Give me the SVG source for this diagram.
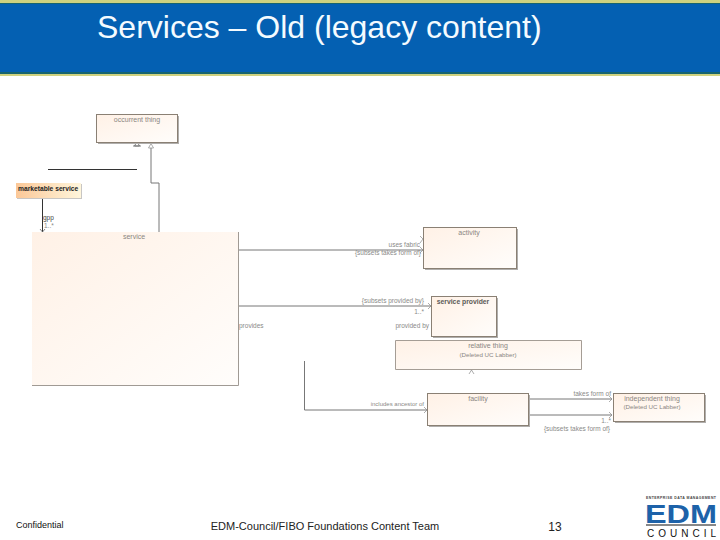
<svg xmlns="http://www.w3.org/2000/svg" width="720" height="540" viewBox="0 0 720 540">
<style>
text{font-family:"Liberation Sans",Arial,sans-serif}
.t{font-size:6.500px;fill:#8a8a88}
.n{font-size:7px;fill:#8a8682}
.s{font-size:6.200px;fill:#8a8682}
.b{font-size:6.800px;fill:#5c5a58;font-weight:bold}
.box{stroke:#8a8074;stroke-width:1;fill:url(#g)}
.sh{fill:#b0aeac}
.c{fill:none;stroke:#777;stroke-width:1}
.a{fill:none;stroke:#8a8a8a;stroke-width:.7}
</style>
<defs>
<linearGradient id="g" x1="0" y1="0" x2="1" y2="1"><stop offset="0" stop-color="#fff1e6"/><stop offset="1" stop-color="#fffdfb"/></linearGradient>
<linearGradient id="m" x1="0" y1="0" x2="1" y2="0"><stop offset="0" stop-color="#fbc898"/><stop offset="1" stop-color="#fff6dc"/></linearGradient>
</defs>
<rect width="720" height="540" fill="#fff"/>
<g id="header">
<rect width="720" height="76" fill="#cfd27f"/>
<rect y="3" width="720" height="71" fill="#17646f"/>
<rect y="4" width="720" height="68" fill="#0460b2"/>
<text x="97" y="38" font-size="32" fill="#f4fbff">Services – Old (legacy content)</text>
</g>
<g id="connectors">
<path class="c" d="M151 148V183H159V232"/>
<path class="a" d="M148.500 148L151 143.500L153.500 148Z"/>
<path d="M48 169.500H137" stroke="#333" fill="none"/>
<path d="M134.500 146L137 141.500L139.500 146ZM133 146H141" fill="none" stroke="#666" stroke-width=".8"/>
<path d="M42.500 198V232" stroke="#333" fill="none"/>
<path d="M40 229L42.500 232L45 229" stroke="#666" fill="none" stroke-width=".8"/>
<path class="c" d="M239 250H423"/>
<path class="a" d="M420 236L423 239L420 243M420 247L423 250L420 253"/>
<path class="c" d="M239 306H431"/>
<path class="a" d="M428 303L431 306L428 309"/>
<path class="c" d="M304.500 361V410H427"/>
<path class="a" d="M424 407L427 410L424 413"/>
<path class="c" d="M529 399H612"/>
<path class="a" d="M609 396L612 399L609 402"/>
<path class="c" d="M529 415H612"/>
<path class="a" d="M609 412L612 415L609 418"/>
<path class="a" d="M469 374L471.500 370L474 374"/>
</g>
<g id="occurrent-thing"><rect class="sh" x="98" y="116" width="81" height="28"/><rect class="box" x="96.500" y="114.500" width="81" height="28"/><text class="n" x="137" y="122" text-anchor="middle">occurrent thing</text></g>
<g id="marketable-service"><rect x="17" y="184" width="65" height="15" fill="#c8c6c4"/><rect x="16" y="183" width="65" height="15" fill="url(#m)"/><text x="18" y="191" font-size="6.700" font-weight="bold" fill="#222">marketable service</text></g>
<g id="service"><path d="M32 232H239V385.500H32Z" fill="url(#g)"/><path d="M238.500 232V385.500H32" fill="none" stroke="#a09a94"/><text class="n" x="134" y="239" text-anchor="middle">service</text></g>
<g id="activity"><rect class="sh" x="425" y="229" width="93" height="41"/><rect class="box" x="423.500" y="227.500" width="93" height="41"/><text class="n" x="469" y="235" text-anchor="middle">activity</text></g>
<g id="service-provider"><rect class="sh" x="433" y="298" width="65" height="40"/><rect class="box" x="431.500" y="296.500" width="65" height="40"/><text class="b" x="463" y="304" text-anchor="middle">service provider</text></g>
<g id="relative-thing"><path d="M395 340.500H581.500V369.500H395Z" fill="url(#g)"/><path d="M395.500 340.500H581.500V369.500H395.500Z" fill="none" stroke="#a59d95"/><text class="n" x="488" y="348" text-anchor="middle">relative thing</text><text class="s" x="488" y="357" text-anchor="middle">(Deleted UC Labber)</text></g>
<g id="facility"><rect class="sh" x="429" y="395" width="101" height="32"/><rect class="box" x="427.500" y="393.500" width="101" height="32"/><text class="n" x="478" y="401" text-anchor="middle">facility</text></g>
<g id="independent-thing"><rect class="sh" x="615" y="395" width="91" height="28"/><rect class="box" x="613.500" y="393.500" width="91" height="28"/><text class="n" x="652" y="401" text-anchor="middle">independent thing</text><text class="s" x="652" y="409" text-anchor="middle">(Deleted UC Labber)</text></g>
<g id="labels">
<text class="t" x="43" y="220" style="fill:#444">gpp</text>
<text class="t" x="44" y="228">1..*</text>
<text class="t" x="420" y="247" text-anchor="end">uses fabric</text>
<text class="t" x="421" y="255" text-anchor="end">{subsets takes form of}</text>
<text class="t" x="424" y="303" text-anchor="end">{subsets provided by}</text>
<text class="t" x="424" y="314" text-anchor="end">1..*</text>
<text class="t" x="429" y="328" text-anchor="end">provided by</text>
<text class="t" x="239" y="328">provides</text>
<text class="t" x="424" y="406" text-anchor="end" font-size="6" style="font-size:6px">includes ancestor of</text>
<text class="t" x="611" y="396" text-anchor="end">takes form of</text>
<text class="t" x="611" y="423" text-anchor="end">1..*</text>
<text class="t" x="610" y="431" text-anchor="end">{subsets takes form of}</text>
</g>
<g id="footer">
<text x="16" y="528" font-size="9" fill="#111">Confidential</text>
<text x="325" y="530" font-size="11" fill="#222" text-anchor="middle">EDM-Council/FIBO Foundations Content Team</text>
<text x="555" y="531" font-size="12" fill="#222" text-anchor="middle">13</text>
</g>
<g id="logo">
<text x="646" y="499" font-size="3.500" font-weight="bold" fill="#444" textLength="70">ENTERPRISE DATA MANAGEMENT</text>
<text x="645" y="523" font-size="25" font-weight="bold" fill="#1d62a9" textLength="72" lengthAdjust="spacingAndGlyphs">EDM</text>
<path d="M646 525H716" stroke="#111"/>
<text x="647" y="537" font-size="10" fill="#111" textLength="69">COUNCIL</text>
</g>
</svg>
